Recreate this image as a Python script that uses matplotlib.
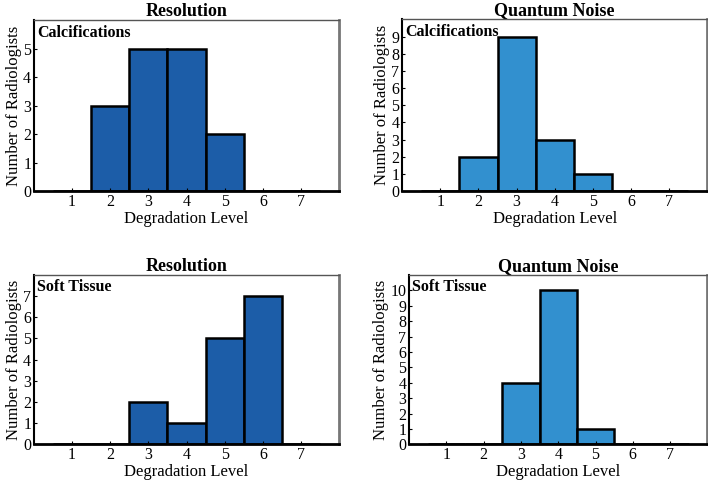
import numpy as np
import matplotlib
matplotlib.use('Agg')
import matplotlib.pyplot as plt

plt.rcParams['font.family'] = ['Liberation Serif', 'DejaVu Serif']

levels = [1, 2, 3, 4, 5, 6, 7]
res_calc = [0, 3, 5, 5, 2, 0, 0]
noise_calc = [0, 2, 9, 3, 1, 0, 0]
res_soft = [0, 0, 2, 1, 5, 7, 0]
noise_soft = [0, 0, 4, 10, 1, 0, 0]

DARK = '#1c5da8'
LIGHT = '#3290cf'

fig = plt.figure(figsize=(7.08, 4.84), dpi=100)

# rect, counts, colour, title, tag, ylim top, top ytick
panels = [
    ([0.048, 0.605, 0.431, 0.353], res_calc, DARK, 'Resolution', 'Calcifications', 6, 5),
    ([0.568, 0.605, 0.431, 0.355], noise_calc, LIGHT, 'Quantum Noise', 'Calcifications', 10, 9),
    ([0.048, 0.082, 0.431, 0.350], res_soft, DARK, 'Resolution', 'Soft Tissue', 8, 7),
    ([0.578, 0.082, 0.421, 0.350], noise_soft, LIGHT, 'Quantum Noise', 'Soft Tissue', 11, 10),
]

for rect, vals, color, title, tag, ymax, ytop in panels:
    ax = fig.add_axes(rect)
    ax.bar(levels, vals, width=1.0, color=color, edgecolor='black', linewidth=1.8)
    ax.set_xlim(0, 8)
    ax.set_ylim(0, ymax)
    ax.set_xticks(levels)
    ax.set_yticks(range(0, ytop + 1))
    ax.tick_params(direction='in', length=2, width=0.8, labelsize=11.5, pad=2)
    ax.set_title(title, fontsize=13, fontweight='bold', pad=3)
    ax.set_xlabel('Degradation Level', fontsize=12, labelpad=1)
    ax.set_ylabel('Number of Radiologists', fontsize=12, labelpad=1)
    ax.text(0.01, 0.975, tag, transform=ax.transAxes, ha='left', va='top',
            fontsize=11.5, fontweight='bold')
    ax.spines['bottom'].set_linewidth(2)
    ax.spines['left'].set_linewidth(1.5)
    ax.spines['top'].set_color('#555555')
    ax.spines['top'].set_linewidth(1)
    ax.spines['right'].set_color('#777777')
    ax.spines['right'].set_linewidth(2)

fig.savefig('out.png', dpi=100)
